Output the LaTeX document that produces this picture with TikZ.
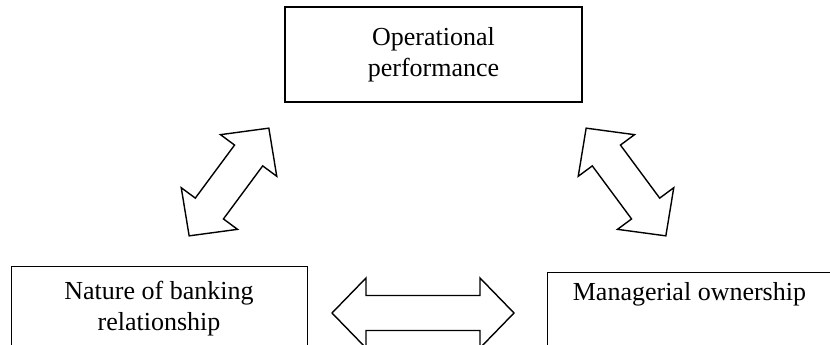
\documentclass[tikz,border=0pt]{standalone}
\usepackage{fontspec}
\setmainfont{Liberation Serif}
\tikzset{
  boxthick/.style={draw, line width=2pt, rectangle, inner sep=0pt, align=center},
  boxthin/.style={draw, line width=0.9pt, rectangle, inner sep=0pt, align=center},
  blockarrow/.style={draw, line width=1.4pt, line join=miter, fill=white},
}
% double block arrow: centre, angle, half length
\newcommand{\dblblockarrow}[3]{%
  \draw[blockarrow, shift={(#1)}, rotate=#2]
    (-#3,0) -- (-#3+34,35) -- (-#3+34,17.5) -- (#3-34,17.5) -- (#3-34,35) -- (#3,0)
    -- (#3-34,-35) -- (#3-34,-17.5) -- (-#3+34,-17.5) -- (-#3+34,-35) -- cycle;}
\begin{document}
\begin{tikzpicture}[x=1pt, y=-1pt, font=\fontsize{26}{31}\selectfont]
\useasboundingbox (0,0) rectangle (830,345);
\clip (0,0) rectangle (830,345);
\node[boxthick, minimum width=297pt, minimum height=95pt] (op) at (433.5,54.5) {Operational\\performance};
\node[boxthin, minimum width=296pt, minimum height=86pt] (nb) at (159,309) {Nature of banking\\relationship};
\node[boxthin, anchor=north west, minimum width=284pt, text height=28pt, text depth=80pt] (mo) at (547,272) {Managerial ownership};
\coordinate (a1) at (229,182);
\coordinate (a2) at (626,182);
\coordinate (a3) at (423,313);
\dblblockarrow{a1}{53.5}{67}
\dblblockarrow{a2}{126.5}{67}
\dblblockarrow{a3}{0}{91}
\end{tikzpicture}
\end{document}
